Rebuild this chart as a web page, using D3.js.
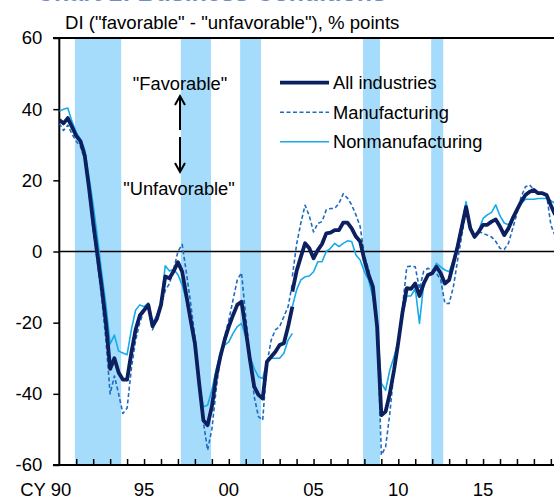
<!DOCTYPE html>
<html><head><meta charset="utf-8">
<script src="https://cdn.jsdelivr.net/npm/d3@7"></script>
<style>
html,body{margin:0;padding:0;background:#fff;}
svg{display:block;font-family:"Liberation Sans",Arial,sans-serif;}
</style></head>
<body><svg id="c" width="554" height="499"></svg>
<script>
// ---- data (quarterly, from CY1990 Q1) ----
const startYear = 1990;
// series before the 2004 survey revision: 1990Q1 .. 2003Q4
const allOld = [37,36,37.5,35,32.5,31,27,18,8,-1,-10,-20,-33,-30,-34,-36,-36,-28.5,-22,-18,-16.5,-15,-21,-19,-15,-7,-7.5,-5.5,-3,-5.7,-12.5,-19.3,-25.8,-37,-47.4,-48.8,-43.6,-35.2,-29.6,-24.9,-21.1,-17.9,-15,-14.1,-22,-30.5,-38,-40.3,-41.3,-31,-29.6,-28.2,-26.3,-25.8,-21.1,-15.5];
const mfgOld = [36,34,35.5,33,31,29.5,26,17,6,-3,-13,-25,-40,-35,-40,-45.5,-44,-33,-25,-20,-16.5,-15.5,-22,-19,-15,-11,-9,-5,0,2,-6,-14.6,-24,-36,-48,-55.8,-50,-39,-29.6,-24,-19.3,-13.6,-8,-6,-18.3,-29.6,-40.8,-46.4,-47.4,-31.5,-24.9,-22,-21.1,-18.3,-15.5,-9];
const nonOld = [39.5,40,40.3,36.5,33.5,31.5,28.5,21,13,4,-6,-15,-26,-23.5,-28,-28.5,-29,-22,-16.5,-15,-15.5,-14.5,-20,-18,-14.5,-4,-5.5,-5,-6.5,-9.5,-13.6,-20.2,-26.8,-37,-43.6,-43.2,-39,-33.3,-28.6,-26.3,-25.4,-23,-21.1,-20.2,-24,-29.6,-32.9,-35.2,-35.7,-31,-30,-30,-30,-28.6,-24.9,-23];
// series after the revision: 2003Q4 .. 2019Q2
const newStartIndex = 55;
const allNew = [-11.3,-5.5,-1.5,2.3,0.9,-1.9,0.4,2.1,5.1,5.3,6,6,8.1,8.1,6.5,4.2,2.8,-2.4,-6.6,-9.9,-21.1,-46,-45,-39.9,-33.3,-25.5,-17,-10.3,-10.5,-9,-12.5,-9,-6.6,-6.1,-4.3,-6.1,-9,-8,-3.3,1.4,7,12.5,6.5,4.1,5.6,7.5,7.5,8.4,9,7,4.6,6.5,9.3,11.7,14,15.9,16.8,17.3,16.4,16.4,15.9,13,10.3];
const mfgNew = [-7,2,8,13,10,5.5,7.9,8.4,11.7,12.1,12.1,13.5,16.2,15,13.1,10.3,7,-1,-5.2,-10.8,-21,-57.2,-55,-45.5,-33.3,-27,-15.5,-4.3,-4.1,-4.3,-10.5,-5.5,-4.7,-5.2,-6.1,-8,-14.6,-14.6,-9.9,-2.4,4.6,11.7,6.5,4.6,5.6,5.1,4.6,4.1,2.8,0.9,0.6,2.3,6.5,10.7,15.4,18.2,18.7,17.3,16.4,16.4,15.9,7.5,4.4];
const nonNew = [-15.5,-10.8,-8,-7.1,-6.9,-5.7,-2.9,-2.9,0,0.9,2.3,1.4,2.3,3,2.8,-1,-2.4,-5.7,-8,-12.7,-21,-37,-39,-33.3,-29.6,-25,-18,-12.5,-12.5,-10.4,-20.2,-9,-6.6,-6.1,-3.3,-4.3,-5.2,-5.7,-2.4,2.3,7.9,14,7,4.1,6,9.3,10.3,11,13.1,10,8,7.5,9.8,11.7,13.5,14.7,14.7,14.7,14.9,14.9,14.9,14.3,13.5];
// recession shading (fractional calendar years)
const bands = [[1990.92,1993.65],[1997.17,1998.95],[2000.67,2001.9],[2007.92,2008.92],[2011.94,2012.65]];
// axis labels
const yTicks = [60,40,20,0,-20,-40,-60];
const xLabelYears = [1990,1995,2000,2005,2010,2015];
const xLabels = ["CY 90","95","00","05","10","15"];
const seriesNames = ["All industries","Manufacturing","Nonmanufacturing"];
const titleText = "Chart 1: Business Conditions";
const yTitle = 'DI ("favorable" - "unfavorable"), % points';

// ---- drawing ----
const svg = d3.select("#c");
const x = d3.scaleLinear().domain([1990, 2019]).range([59.3, 59.3 + 29 * 16.95]);
const y = d3.scaleLinear().domain([-60, 60]).range([465, 38]);
const W = 554;

svg.append("rect").attr("width", 554).attr("height", 499).attr("fill", "#fff");

// cut-off title (only its lower edge shows, as in the reference)
svg.append("text").attr("x", 36).attr("y", 0.6).attr("font-size", 25).attr("font-weight", "bold")
  .attr("fill", "#6f8fc2").text(titleText);

// bands
svg.selectAll("rect.band").data(bands).enter().append("rect").attr("class", "band")
  .attr("x", d => x(d[0])).attr("width", d => x(d[1]) - x(d[0]))
  .attr("y", y(60) + 1).attr("height", y(-60) - y(60) - 2).attr("fill", "#a5dbfb");

// axes frame
svg.append("line").attr("x1", 53).attr("x2", W).attr("y1", y(60)).attr("y2", y(60)).attr("stroke", "#000").attr("stroke-width", 2);
svg.append("line").attr("x1", 53).attr("x2", W).attr("y1", y(-60)).attr("y2", y(-60)).attr("stroke", "#000").attr("stroke-width", 2);
svg.append("line").attr("x1", x(1990)).attr("x2", x(1990)).attr("y1", y(60)).attr("y2", y(-60)).attr("stroke", "#000").attr("stroke-width", 2);
svg.append("line").attr("x1", x(1990)).attr("x2", W).attr("y1", y(0)).attr("y2", y(0)).attr("stroke", "#000").attr("stroke-width", 1.6);

// y ticks
const yAxis = d3.axisLeft(y).tickValues(yTicks).tickSize(6).tickPadding(11).tickFormat(d => d);
const gy = svg.append("g").attr("transform", `translate(${x(1990)},0)`).call(yAxis);
gy.select(".domain").remove();
gy.selectAll(".tick line").attr("stroke", "#000").attr("stroke-width", 1.5);
gy.selectAll(".tick text").attr("font-size", 18.5).attr("fill", "#000").attr("font-family", "Liberation Sans, Arial, sans-serif");

// x ticks (every year, inward)
const years = d3.range(1991, 2020);
const xAxis = d3.axisTop(x).tickValues(years).tickSize(6).tickFormat("");
const gx = svg.append("g").attr("transform", `translate(0,${y(-60)})`).call(xAxis);
gx.select(".domain").remove();
gx.selectAll(".tick line").attr("stroke", "#000").attr("stroke-width", 1.5);
svg.selectAll("text.xl").data(xLabelYears).enter().append("text").attr("class", "xl")
  .attr("x", (d, i) => i === 0 ? x(d) + 12 : x(d)).attr("y", 496)
  .attr("text-anchor", (d, i) => i === 0 ? "end" : "middle")
  .attr("font-size", 18.5).attr("fill", "#000").text((d, i) => xLabels[i]);

// y title
svg.append("text").attr("x", 65).attr("y", 29).attr("font-size", 18.6).attr("fill", "#000").text(yTitle);

// lines
const t = i => startYear + i / 4;
const line = d3.line().x(d => x(d[0])).y(d => y(d[1]));
const mk = (arr, off) => arr.map((v, i) => [t(i + off), v]);
const styles = [
  {name: seriesNames[1], segs: [mk(mfgOld, 0), mk(mfgNew, newStartIndex)], color: "#1d6cc2", w: 1.6, dash: "4,2.5"},
  {name: seriesNames[2], segs: [mk(nonOld, 0), mk(nonNew, newStartIndex)], color: "#15aaec", w: 1.6, dash: null},
  {name: seriesNames[0], segs: [mk(allOld, 0), mk(allNew, newStartIndex)], color: "#0c2060", w: 3.8, dash: null}
];
svg.append("clipPath").attr("id", "pc").append("rect")
  .attr("x", x(1990)).attr("y", y(60)).attr("width", W - x(1990)).attr("height", y(-60) - y(60));
const gl = svg.append("g").attr("clip-path", "url(#pc)");
styles.forEach(s => {
  s.segs.forEach(seg => {
    gl.append("path").attr("d", line(seg)).attr("fill", "none").attr("stroke", s.color)
      .attr("stroke-width", s.w).attr("stroke-dasharray", s.dash).attr("stroke-linejoin", "round");
  });
});

// legend
const legendOrder = [styles[2], styles[0], styles[1]];
const lg = svg.append("g");
legendOrder.forEach((s, i) => {
  const ly = 82.7 + i * 29.5;
  lg.append("line").attr("x1", 280).attr("x2", 329).attr("y1", ly).attr("y2", ly)
    .attr("stroke", s.color).attr("stroke-width", s.w).attr("stroke-dasharray", s.dash);
  lg.append("text").attr("x", 333).attr("y", ly + 6.5).attr("font-size", 18.3).attr("fill", "#000").text(s.name);
});

// annotation
svg.append("text").attr("x", 180).attr("y", 90).attr("text-anchor", "middle").attr("font-size", 18.3).attr("fill", "#000").text('"Favorable"');
svg.append("text").attr("x", 179).attr("y", 195).attr("text-anchor", "middle").attr("font-size", 18.3).attr("fill", "#000").text('"Unfavorable"');
const ax = 180;
const ann = svg.append("g").attr("stroke", "#000").attr("stroke-width", 2).attr("fill", "none");
ann.append("line").attr("x1", ax).attr("x2", ax).attr("y1", 130).attr("y2", 97);
ann.append("path").attr("d", `M${ax-5},${105} L${ax},${96} L${ax+5},${105}`);
ann.append("line").attr("x1", ax).attr("x2", ax).attr("y1", 137).attr("y2", 171);
ann.append("path").attr("d", `M${ax-5},${163} L${ax},${172} L${ax+5},${163}`);
</script></body></html>
